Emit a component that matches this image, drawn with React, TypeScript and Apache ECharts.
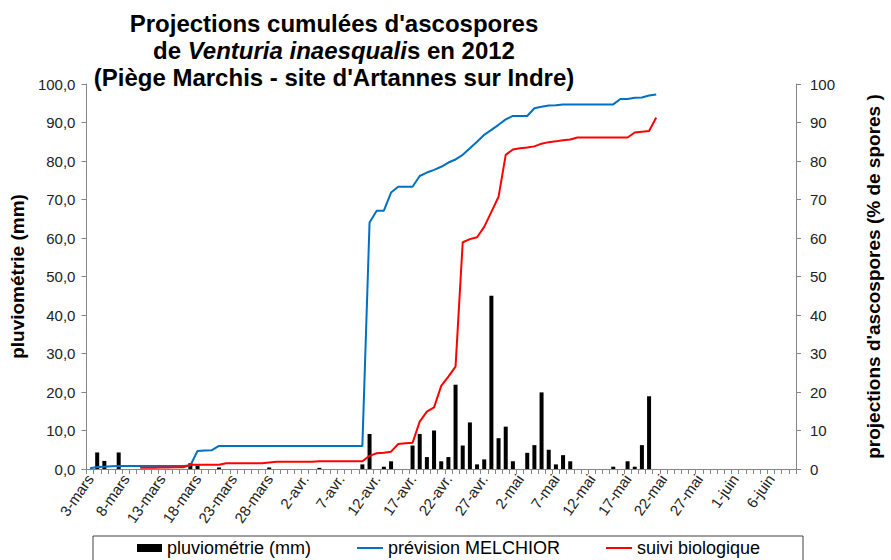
import React, { useEffect, useRef } from "react";
import * as echarts from "echarts";

// Categories: daily dates from 3-mars to 9-juin 2012
const MONTHS: [string, number][] = [["mars", 31], ["avr.", 30], ["mai", 31], ["juin", 30]];
const START_DAY = 3;
const N_DAYS = 99;
function buildCategories(): string[] {
  const out: string[] = [];
  let m = 0;
  let d = START_DAY;
  for (let k = 0; k < N_DAYS; k++) {
    out.push(`${d}-${MONTHS[m][0]}`);
    d++;
    if (d > MONTHS[m][1]) { d = 1; m++; }
  }
  return out;
}
const categories = buildCategories();

// pluviométrie (mm), one value per day
const pluvio: number[] = [
  0, 4.3, 2.1, 0, 4.3, 0, 0, 0, 0, 0,
  0, 0, 0, 0, 1.5, 0.9, 0, 0, 0.4, 0,
  0, 0, 0, 0, 0, 0.4, 0, 0, 0, 0,
  0, 0, 0.3, 0, 0, 0, 0, 0, 1.2, 9.1,
  0, 0.6, 2.0, 0, 0, 6.1, 9.1, 3.1, 10.0, 2.0,
  3.1, 21.9, 6.1, 12.1, 1.2, 2.5, 45.0, 8.0, 11.0, 2.0,
  0, 4.2, 6.2, 19.9, 5.0, 1.2, 3.6, 2.0, 0, 0,
  0, 0, 0, 0.6, 0, 2.0, 0.6, 6.2, 18.9, 0,
  0, 0, 0, 0, 0, 0, 0, 0, 0, 0,
  0, 0, 0, 0, 0, 0, 0, 0, 0,
];

// prévision MELCHIOR (% cumulé)
const melchior: (number | null)[] = [
  0.2, 0.5, 0.6, 0.7, 0.8, 0.8, 0.8, 0.8, 0.8, 0.8,
  0.8, 0.8, 0.8, 0.8, 0.9, 4.7, 4.8, 4.9, 6.0, 6.0,
  6.0, 6.0, 6.0, 6.0, 6.0, 6.0, 6.0, 6.0, 6.0, 6.0,
  6.0, 6.0, 6.0, 6.0, 6.0, 6.0, 6.0, 6.0, 6.0, 64.0,
  67.1, 67.1, 71.8, 73.3, 73.3, 73.3, 76.1, 77.0, 77.7, 78.5,
  79.6, 80.4, 81.6, 83.3, 85.0, 86.8, 88.1, 89.4, 90.8, 91.7,
  91.7, 91.7, 93.7, 94.1, 94.4, 94.5, 94.7, 94.7, 94.7, 94.7,
  94.7, 94.7, 94.7, 94.7, 96.1, 96.1, 96.4, 96.5, 97.0, 97.3,
];

// suivi biologique (% cumulé)
const suivi: (number | null)[] = [
  null, null, null, null, null, null, null, 0.3, 0.3, 0.35,
  0.4, 0.4, 0.45, 0.45, 1.1, 1.1, 1.1, 1.1, 1.1, 1.5,
  1.5, 1.5, 1.5, 1.5, 1.5, 1.7, 1.9, 1.9, 1.9, 1.9,
  1.9, 1.9, 2.0, 2.0, 2.0, 2.0, 2.0, 2.0, 2.0, 3.4,
  4.1, 4.2, 4.5, 6.5, 6.7, 6.8, 12.3, 14.9, 16.0, 21.6,
  24.0, 26.6, 58.9, 59.7, 60.2, 62.9, 66.8, 70.7, 81.6, 83.0,
  83.3, 83.5, 83.8, 84.5, 84.9, 85.1, 85.4, 85.6, 86.1, 86.1,
  86.1, 86.1, 86.1, 86.1, 86.1, 86.1, 87.4, 87.6, 87.8, 91.3,
];

const AXIS_GRAY = "#868686";
const FONT = "'Liberation Sans', Arial, sans-serif";

export default function App() {
  const ref = useRef<HTMLDivElement>(null);
  useEffect(() => {
    if (!ref.current) return;
    const chart = echarts.init(ref.current, undefined, { renderer: "svg" });
    const legendText = { fontSize: 18, color: "#000", fontFamily: FONT };
    const tStyle = { fontSize: 24, fontWeight: "bold", color: "#000", lineHeight: 27, fontFamily: FONT };
    chart.setOption({
      animation: false,
      backgroundColor: "#fff",
      textStyle: { fontFamily: FONT },
      title: {
        text:
          "Projections cumulées d'ascospores\n{n|de }{i|Venturia inaesquali}{n|s en 2012}\n(Piège Marchis - site d'Artannes sur Indre)",
        left: 329,
        textAlign: "center",
        top: 5,
        textStyle: {
          ...tStyle,
          rich: {
            n: { ...tStyle },
            i: { ...tStyle, fontStyle: "italic" },
          },
        },
      },
      grid: { left: 78, right: 88, top: 84, bottom: 91, containLabel: false },
      legend: [
        {
          data: ["pluviométrie (mm)"],
          left: 137, top: 539, padding: 0,
          icon: "rect", itemWidth: 25, itemHeight: 8,
          textStyle: legendText,
        },
        {
          data: ["prévision MELCHIOR"],
          left: 357, top: 539, padding: 0,
          icon: "rect", itemWidth: 26, itemHeight: 2,
          textStyle: legendText,
        },
        {
          data: ["suivi biologique"],
          left: 606, top: 539, padding: 0,
          icon: "rect", itemWidth: 26, itemHeight: 2,
          textStyle: legendText,
        },
      ],
      graphic: [
        {
          type: "rect",
          shape: { x: 93, y: 536, width: 710, height: 40 },
          style: { fill: "none", stroke: "#404040", lineWidth: 1 },
          silent: true,
        },
      ],
      xAxis: {
        type: "category",
        data: categories,
        boundaryGap: true,
        axisLine: { lineStyle: { color: AXIS_GRAY, width: 1 } },
        axisTick: { show: true, interval: 0, length: 5, lineStyle: { color: AXIS_GRAY } },
        axisLabel: { interval: 4, rotate: 55, fontSize: 15, color: "#222", margin: 7 },
        splitLine: { show: false },
      },
      yAxis: [
        {
          type: "value",
          min: 0, max: 100, interval: 10,
          name: "pluviométrie (mm)",
          nameLocation: "middle",
          nameRotate: 90,
          nameGap: 50,
          nameTextStyle: { fontSize: 19, fontWeight: "bold", color: "#000" },
          axisLine: { show: true, lineStyle: { color: AXIS_GRAY } },
          axisTick: { show: true, length: 5, lineStyle: { color: AXIS_GRAY } },
          axisLabel: {
            fontSize: 15, color: "#222", margin: 11,
            formatter: (v: number) => v.toFixed(1).replace(".", ","),
          },
          splitLine: { show: false },
        },
        {
          type: "value",
          position: "right",
          min: 0, max: 100, interval: 10,
          name: "projections d'ascospores (% de spores )",
          nameLocation: "middle",
          nameRotate: 90,
          nameGap: 68,
          nameTextStyle: { fontSize: 19, fontWeight: "bold", color: "#000" },
          axisLine: { show: true, lineStyle: { color: AXIS_GRAY } },
          axisTick: { show: true, length: 5, lineStyle: { color: AXIS_GRAY } },
          axisLabel: { fontSize: 15, color: "#222", margin: 14 },
          splitLine: { show: false },
        },
      ],
      series: [
        {
          name: "pluviométrie (mm)",
          type: "bar",
          yAxisIndex: 0,
          data: pluvio,
          barWidth: 4,
          itemStyle: { color: "#000" },
        },
        {
          name: "prévision MELCHIOR",
          type: "line",
          yAxisIndex: 1,
          data: melchior,
          showSymbol: false,
          symbol: "none",
          lineStyle: { color: "#0070C0", width: 2 },
          itemStyle: { color: "#0070C0" },
        },
        {
          name: "suivi biologique",
          type: "line",
          yAxisIndex: 1,
          data: suivi,
          showSymbol: false,
          symbol: "none",
          lineStyle: { color: "#FF0000", width: 2 },
          itemStyle: { color: "#FF0000" },
        },
      ],
    });
    return () => chart.dispose();
  }, []);
  return (
    <div
      ref={ref}
      style={{ position: "absolute", left: 0, top: 0, width: 891, height: 560 }}
    />
  );
}
